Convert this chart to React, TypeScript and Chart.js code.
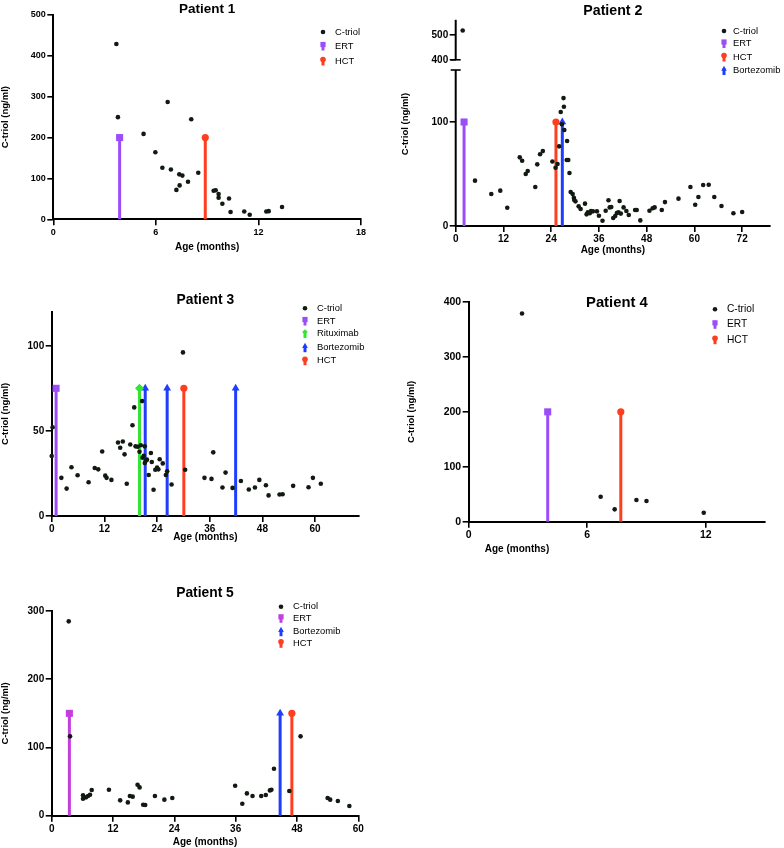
import React, { useEffect, useRef } from "react";
import { Chart, registerables } from "chart.js";

Chart.register(...registerables);

const FONT = '"Liberation Sans", Arial, Helvetica, sans-serif';
Chart.defaults.font.family = FONT;

// ---------------- DATA ----------------
// Patient 1
const p1Age = [3.69, 3.78, 5.28, 5.97, 6.38, 6.69, 6.88, 7.37, 7.55, 7.2, 7.39, 7.88, 8.07, 8.48, 9.38, 9.5, 9.67, 9.67, 9.89, 10.28, 10.37, 11.17, 11.49, 12.46, 12.6, 13.38];
const p1Ctriol = [429, 250, 209, 164, 126, 287, 122, 110, 107, 72, 83, 92, 245, 114, 70, 71, 62, 53, 38, 51, 18, 19, 11, 19, 20, 30];
const p1EventNames = ["ERT", "HCT"];
const p1EventAges = [3.88, 8.89];
const p1EventLevels = [200, 200];
const p1Legend = ["C-triol", "ERT", "HCT"];
const p1XTicks = [0, 6, 12, 18];
const p1YTicks = [0, 100, 200, 300, 400, 500];

// Patient 2
const p2Age = [1.76, 4.85, 8.95, 11.2, 12.96, 16.1, 16.7, 17.6, 18.1, 20.0, 20.5, 21.2, 21.9, 24.3, 25.1, 25.6, 26.0, 26.4, 26.7, 27.1, 27.2, 27.3, 28.0, 27.9, 28.3, 28.6, 28.9, 29.4, 29.7, 29.8, 30.1, 30.9, 31.4, 32.5, 32.9, 33.2, 33.7, 34.0, 34.5, 35.5, 36.0, 36.9, 37.7, 38.4, 38.7, 39.1, 39.6, 40.1, 40.5, 40.9, 41.2, 41.5, 42.2, 42.9, 43.5, 45.1, 45.5, 46.4, 48.7, 49.5, 50.0, 51.8, 52.6, 56.0, 59.0, 60.2, 61.0, 62.2, 63.6, 65.0, 66.8, 69.8, 72.0];
const p2Ctriol = [517, 43.6, 30.8, 34, 17.6, 66, 62.8, 50, 52.9, 37.5, 59.3, 69, 72, 62, 56, 59.6, 76.6, 109.6, 97.8, 123, 114.7, 92.3, 81.7, 63.5, 63.5, 51, 32.7, 30.8, 27.2, 25, 23.7, 18.9, 16.3, 21.5, 11.2, 13.1, 12.2, 14.4, 14.1, 14.1, 9.9, 5.1, 14.7, 24.7, 17.9, 18.3, 7.7, 9.6, 12.5, 13.1, 24, 11.9, 17.9, 14.4, 10.6, 15.4, 15.4, 5.4, 14.7, 17, 17.9, 15.4, 23, 26.3, 37.5, 20.5, 27.9, 39.4, 39.7, 27.9, 19.2, 12.2, 13.5];
const p2EventNames = ["ERT", "HCT", "Bortezomib"];
const p2EventAges = [2.1, 25.2, 26.8];
const p2EventLevels = [100, 100, 100];
const p2Legend = ["C-triol", "ERT", "HCT", "Bortezomib"];
const p2XTicks = [0, 12, 24, 36, 48, 60, 72];
const p2YTicksLower = [0, 100];
const p2YTicksUpper = [400, 500];
const p2LowerAxisEnd = 150; // top of lower axis segment
const p2UpperAxisStart = 400; // bottom of upper axis segment

// Patient 3
const p3Age = [0, 0.2, 2.2, 3.4, 4.5, 5.9, 8.4, 9.8, 10.6, 11.5, 12.2, 12.5, 13.6, 15.1, 15.6, 16.2, 16.6, 17.1, 17.9, 18.4, 18.8, 19.1, 19.6, 20.0, 20.3, 20.6, 20.7, 20.96, 21.2, 21.2, 21.4, 21.7, 22.1, 22.6, 22.8, 23.2, 23.6, 24.0, 24.3, 24.6, 25.3, 26.0, 26.3, 27.3, 29.9, 30.4, 34.8, 36.4, 36.8, 38.9, 39.6, 41.2, 43.1, 44.9, 46.3, 47.3, 48.8, 49.4, 51.9, 52.6, 55.0, 58.5, 59.5, 61.3];
const p3Ctriol = [35.2, 52.1, 22.4, 16.1, 28.6, 23.9, 19.8, 28.2, 27.4, 37.9, 23.7, 22.4, 21.2, 43.2, 40.1, 43.8, 36.2, 18.9, 42, 53.3, 63.8, 40.9, 40.7, 37.7, 41.6, 67.5, 34.2, 35.4, 40.9, 31.1, 32.3, 33.1, 24.1, 37, 31.7, 15.4, 27.2, 28.4, 27.4, 33.3, 30.9, 24.1, 26.3, 18.5, 96.1, 27.2, 22.4, 21.8, 37.4, 16.7, 25.5, 16.5, 20.6, 15.6, 16.7, 21.2, 18.1, 12.1, 12.6, 12.8, 17.7, 16.9, 22.4, 18.9];
const p3EventNames = ["ERT", "Rituximab", "Bortezomib", "Bortezomib", "HCT", "Bortezomib"];
const p3EventAges = [1.0, 20.0, 21.3, 26.3, 30.1, 41.9];
const p3EventLevels = [75, 75, 75, 75, 75, 75];
const p3Legend = ["C-triol", "ERT", "Rituximab", "Bortezomib", "HCT"];
const p3XTicks = [0, 12, 24, 36, 48, 60];
const p3YTicks = [0, 50, 100];

// Patient 4
const p4Age = [2.7, 6.68, 7.39, 8.49, 9.0, 11.9];
const p4Ctriol = [379, 45.5, 22.5, 39.5, 37.6, 16.4];
const p4EventNames = ["ERT", "HCT"];
const p4EventAges = [4.0, 7.7];
const p4EventLevels = [200, 200];
const p4Legend = ["C-triol", "ERT", "HCT"];
const p4XTicks = [0, 6, 12];
const p4YTicks = [0, 100, 200, 300, 400];

// Patient 5
const p5Age = [3.33, 3.59, 6.13, 6.13, 6.72, 7.11, 7.5, 7.83, 11.2, 13.4, 14.9, 15.3, 15.85, 16.8, 17.2, 17.9, 18.3, 20.2, 22.05, 23.6, 35.9, 37.3, 38.2, 39.3, 41.0, 41.9, 42.7, 43.0, 43.5, 46.5, 48.7, 54.0, 54.5, 56.0, 58.25];
const p5Ctriol = [284.8, 116.3, 29.8, 24.9, 26.9, 28.8, 30.8, 37.6, 38.1, 22.5, 19.5, 28.8, 27.9, 45.4, 41.5, 16.1, 15.6, 28.8, 23.5, 25.9, 44, 17.6, 32.7, 28.8, 28.8, 30.3, 37.1, 38.1, 68.9, 36.2, 116.3, 25.9, 23.5, 21.5, 14.2];
const p5EventNames = ["ERT", "Bortezomib", "HCT"];
const p5EventAges = [3.46, 44.7, 47.0];
const p5EventLevels = [150, 150, 150];
const p5Legend = ["C-triol", "ERT", "Bortezomib", "HCT"];
const p5XTicks = [0, 12, 24, 36, 48, 60];
const p5YTicks = [0, 100, 200, 300];

// ---------------- STYLES ----------------
const DOT = "#111a11";
const EVENT_STYLE: Record<string, { color: string; shape: string; r: number }> = {
  ERT: { color: "#9b4dfa", shape: "rect", r: 5 },
  HCT: { color: "#ff3d1f", shape: "circle", r: 3.6 },
  Bortezomib: { color: "#1f3dff", shape: "triangle", r: 4.5 },
  Rituximab: { color: "#33e433", shape: "rectRot", r: 4.5 },
};

type Panel = any;

const PANELS: Panel[] = [
  {
    key: "p1", title: "Patient 1", titleSize: 13.5, titleY: 9.5,
    ages: p1Age, values: p1Ctriol, eventNames: p1EventNames, eventAges: p1EventAges, eventLevels: p1EventLevels,
    legendOrder: p1Legend, xMax: 18, xTicks: p1XTicks, yMax: 500, yTicks: p1YTicks,
    box: { x: 0, y: 0, w: 380, h: 262 }, yWidth: 53.3, padTop: 15, padRight: 19, xHeight: 42.7,
    tickSize: 9, xTitlePad: 9, yTitlePad: 0,
    legend: { mx: 323, tx: 335, rows: [32, 46, 61], size: 9.4 },
    colors: {},
  },
  {
    key: "p2", title: "Patient 2", titleSize: 14.2, titleY: 11,
    ages: p2Age, values: p2Ctriol, eventNames: p2EventNames, eventAges: p2EventAges, eventLevels: p2EventLevels,
    legendOrder: p2Legend, xMax: 79, xTicks: p2XTicks,
    broken: true,
    box: { x: 390, y: 0, w: 394, h: 262 }, yWidth: 65.7, padTop: 19.8, padRight: 14, xHeight: 36,
    tickSize: 10, xTitlePad: 6, yTitleX: 15, yTitleY: 124,
    legend: { mx: 334, tx: 343, rows: [31, 43.5, 57, 70.5], size: 9.4 },
    colors: {},
  },
  {
    key: "p3", title: "Patient 3", titleSize: 13.8, titleY: 30,
    ages: p3Age, values: p3Ctriol, eventNames: p3EventNames, eventAges: p3EventAges, eventLevels: p3EventLevels,
    legendOrder: p3Legend, xMax: 70, xTicks: p3XTicks, yMax: 120, yTicks: p3YTicks,
    box: { x: 0, y: 270, w: 380, h: 276 }, yWidth: 51.7, padTop: 41.7, padRight: 21, xHeight: 30,
    tickSize: 10, xTitlePad: 3, yTitlePad: 0,
    legend: { mx: 305, tx: 317, rows: [38.3, 51, 63.5, 77.7, 90.7], size: 9.4 },
    colors: {},
  },
  {
    key: "p4", title: "Patient 4", titleSize: 14.8, titleY: 32.5,
    ages: p4Age, values: p4Ctriol, eventNames: p4EventNames, eventAges: p4EventAges, eventLevels: p4EventLevels,
    legendOrder: p4Legend, xMax: 15, xTicks: p4XTicks, yMax: 400, yTicks: p4YTicks,
    box: { x: 400, y: 270, w: 384, h: 290 }, yWidth: 68.7, padTop: 32, padRight: 19, xHeight: 38.3,
    tickSize: 10.5, xTitlePad: 5, yTitlePad: 6, xTitleX: 117,
    legend: { mx: 315, tx: 327, rows: [39.3, 54.3, 69.7], size: 10.2 },
    colors: {},
  },
  {
    key: "p5", title: "Patient 5", titleSize: 13.8, titleY: 33,
    ages: p5Age, values: p5Ctriol, eventNames: p5EventNames, eventAges: p5EventAges, eventLevels: p5EventLevels,
    legendOrder: p5Legend, xMax: 60, xTicks: p5XTicks, yMax: 300, yTicks: p5YTicks,
    box: { x: 0, y: 560, w: 380, h: 288 }, yWidth: 51.7, padTop: 51, padRight: 21.7, xHeight: 32.3,
    tickSize: 10, xTitlePad: 0, yTitlePad: 0,
    legend: { mx: 281, tx: 293, rows: [46.7, 58.3, 71.7, 83.3], size: 9.4 },
    colors: { ERT: "#c23fde" },
  },
];

function styleOf(p: Panel, name: string) {
  const base = EVENT_STYLE[name];
  return { ...base, color: (p.colors && p.colors[name]) || base.color };
}

function drawShape(ctx: CanvasRenderingContext2D, shape: string, x: number, y: number, r: number, color: string) {
  ctx.fillStyle = color;
  ctx.beginPath();
  if (shape === "circle") {
    ctx.arc(x, y, r, 0, Math.PI * 2);
  } else if (shape === "rect") {
    ctx.rect(x - r, y - r, 2 * r, 2 * r);
  } else if (shape === "triangle") {
    ctx.moveTo(x, y - r * 1.2);
    ctx.lineTo(x + r, y + r * 0.6);
    ctx.lineTo(x - r, y + r * 0.6);
    ctx.closePath();
  } else {
    ctx.moveTo(x, y - r);
    ctx.lineTo(x + r, y);
    ctx.lineTo(x, y + r);
    ctx.lineTo(x - r, y);
    ctx.closePath();
  }
  ctx.fill();
}

function decorPlugin(p: Panel) {
  return {
    id: "decor_" + p.key,
    afterDraw(chart: any) {
      const ctx: CanvasRenderingContext2D = chart.ctx;
      const ca = chart.chartArea;
      ctx.save();
      // panel title
      ctx.fillStyle = "#000";
      ctx.textAlign = "center";
      ctx.textBaseline = "middle";
      ctx.font = `bold ${p.titleSize}px ${FONT}`;
      ctx.fillText(p.title, (ca.left + ca.right) / 2, p.titleY);

      // legend
      const lg = p.legend;
      p.legendOrder.forEach((name: string, i: number) => {
        const ry = lg.rows[i];
        if (name === "C-triol") {
          ctx.fillStyle = DOT;
          ctx.beginPath();
          ctx.arc(lg.mx, ry, 2.3, 0, Math.PI * 2);
          ctx.fill();
        } else {
          const st = styleOf(p, name);
          ctx.strokeStyle = st.color;
          ctx.lineWidth = 3;
          ctx.beginPath();
          ctx.moveTo(lg.mx, ry + 4.5);
          ctx.lineTo(lg.mx, ry - 2);
          ctx.stroke();
          drawShape(ctx, st.shape, lg.mx, ry - 1.5, st.shape === "rect" ? 2.6 : 2.8, st.color);
        }
        ctx.fillStyle = "#000";
        ctx.textAlign = "left";
        ctx.textBaseline = "middle";
        ctx.font = `${lg.size}px ${FONT}`;
        ctx.fillText(name, lg.tx, ry);
      });

      // custom x title (when offset from center)
      if (p.xTitleX !== undefined) {
        const xs = chart.scales.x;
        ctx.fillStyle = "#000";
        ctx.textAlign = "center";
        ctx.textBaseline = "middle";
        ctx.font = `bold 10px ${FONT}`;
        ctx.fillText("Age (months)", p.xTitleX, xs.bottom - 6 - p.xTitlePad);
      }

      // broken y axis
      if (p.broken) {
        const y = chart.scales.y;
        const yt = chart.scales.yTop;
        const x0 = ca.left;
        ctx.strokeStyle = "#000";
        ctx.lineWidth = 2;
        ctx.beginPath();
        ctx.moveTo(x0, y.getPixelForValue(0) + 1);
        ctx.lineTo(x0, y.getPixelForValue(p2LowerAxisEnd));
        ctx.stroke();
        ctx.beginPath();
        ctx.moveTo(x0, yt.getPixelForValue(p2UpperAxisStart));
        ctx.lineTo(x0, yt.top);
        ctx.stroke();
        ctx.lineWidth = 1.6;
        [y.getPixelForValue(p2LowerAxisEnd), yt.getPixelForValue(p2UpperAxisStart)].forEach((py: number) => {
          ctx.beginPath();
          ctx.moveTo(x0 - 5, py);
          ctx.lineTo(x0 + 5, py);
          ctx.stroke();
        });
        // y title
        ctx.save();
        ctx.translate(p.yTitleX, p.yTitleY);
        ctx.rotate(-Math.PI / 2);
        ctx.fillStyle = "#000";
        ctx.textAlign = "center";
        ctx.textBaseline = "middle";
        ctx.font = `bold 9.5px ${FONT}`;
        ctx.fillText("C-triol (ng/ml)", 0, 0);
        ctx.restore();
      }
      ctx.restore();
    },
  };
}

function axis(p: Panel, ticks: number[], min: number, max: number, extra: any) {
  return {
    type: "linear",
    min,
    max,
    border: { display: true, color: "#000", width: 2 },
    grid: { display: true, drawOnChartArea: false, drawTicks: true, tickLength: 6, color: "#000", lineWidth: 1.6 },
    ticks: {
      color: "#000",
      font: { family: FONT, size: p.tickSize, weight: "bold" },
      padding: 1.5,
      autoSkip: false,
      maxRotation: 0,
    },
    afterBuildTicks: (s: any) => {
      s.ticks = ticks.map((v) => ({ value: v }));
    },
    ...extra,
  };
}

function buildConfig(p: Panel): any {
  const datasets: any[] = [];
  if (p.broken) {
    const low: any[] = [];
    const high: any[] = [];
    p.ages.forEach((a: number, i: number) => {
      const v = p.values[i];
      (v >= p2UpperAxisStart ? high : low).push({ x: a, y: v });
    });
    datasets.push({ label: "C-triol", data: low, yAxisID: "y" });
    datasets.push({ label: "C-triol", data: high, yAxisID: "yTop" });
  } else {
    datasets.push({ label: "C-triol", data: p.ages.map((a: number, i: number) => ({ x: a, y: p.values[i] })) });
  }
  datasets.forEach((d) => {
    Object.assign(d, {
      showLine: false,
      pointRadius: 2.3,
      pointHoverRadius: 2.3,
      pointBackgroundColor: DOT,
      pointBorderColor: DOT,
      pointBorderWidth: 0,
      clip: false,
      order: 0,
    });
  });
  p.eventNames.forEach((name: string, i: number) => {
    const st = styleOf(p, name);
    datasets.push({
      label: name,
      data: [
        { x: p.eventAges[i], y: 0 },
        { x: p.eventAges[i], y: p.eventLevels[i] },
      ],
      yAxisID: "y",
      showLine: true,
      borderColor: st.color,
      borderWidth: 3,
      pointRadius: [0, st.r],
      pointHoverRadius: [0, st.r],
      pointStyle: st.shape,
      pointBackgroundColor: st.color,
      pointBorderColor: st.color,
      pointBorderWidth: 0,
      clip: false,
      order: 1,
    });
  });

  const xTitle = {
    display: p.xTitleX === undefined,
    text: "Age (months)",
    color: "#000",
    font: { family: FONT, size: 10, weight: "bold" },
    padding: { top: 0, bottom: p.xTitlePad },
  };

  const scales: any = {
    x: axis(p, p.xTicks, 0, p.xMax, {
      position: "bottom",
      title: xTitle,
      afterFit: (s: any) => {
        s.height = p.xHeight;
      },
    }),
  };

  if (p.broken) {
    const wLow = 155 * 1.04;
    const wHigh = 45;
    scales.y = axis(p, p2YTicksLower, 0, 155, {
      position: "left",
      stack: "p2",
      stackWeight: wLow,
      weight: 0,
      border: { display: false },
      afterFit: (s: any) => {
        s.width = p.yWidth;
      },
    });
    scales.yTop = axis(p, p2YTicksUpper, 380, 560, {
      position: "left",
      stack: "p2",
      stackWeight: wHigh,
      weight: 1,
      border: { display: false },
      afterFit: (s: any) => {
        s.width = p.yWidth;
      },
    });
  } else {
    scales.y = axis(p, p.yTicks, 0, p.yMax, {
      position: "left",
      title: {
        display: true,
        text: "C-triol (ng/ml)",
        color: "#000",
        font: { family: FONT, size: 9.5, weight: "bold" },
        padding: { top: p.yTitlePad, bottom: 0 },
      },
      afterFit: (s: any) => {
        s.width = p.yWidth;
      },
    });
  }

  return {
    type: "scatter",
    data: { datasets },
    options: {
      animation: false,
      responsive: false,
      maintainAspectRatio: false,
      events: [],
      layout: { padding: { top: p.padTop, right: p.padRight, bottom: 0, left: 0 } },
      plugins: {
        legend: { display: false },
        tooltip: { enabled: false },
        title: { display: false },
      },
      scales,
    },
    plugins: [decorPlugin(p)],
  };
}

function PanelChart({ panel }: { panel: Panel }) {
  const ref = useRef<HTMLCanvasElement>(null);
  useEffect(() => {
    if (!ref.current) return;
    const chart = new Chart(ref.current, buildConfig(panel));
    return () => chart.destroy();
  }, [panel]);
  const b = panel.box;
  return (
    <canvas
      ref={ref}
      width={b.w}
      height={b.h}
      style={{ position: "absolute", left: b.x, top: b.y, width: b.w, height: b.h }}
    />
  );
}

export default function App() {
  return (
    <div style={{ position: "absolute", left: 0, top: 0, width: 784, height: 848, background: "#fff" }}>
      {PANELS.map((p) => (
        <PanelChart key={p.key} panel={p} />
      ))}
    </div>
  );
}
